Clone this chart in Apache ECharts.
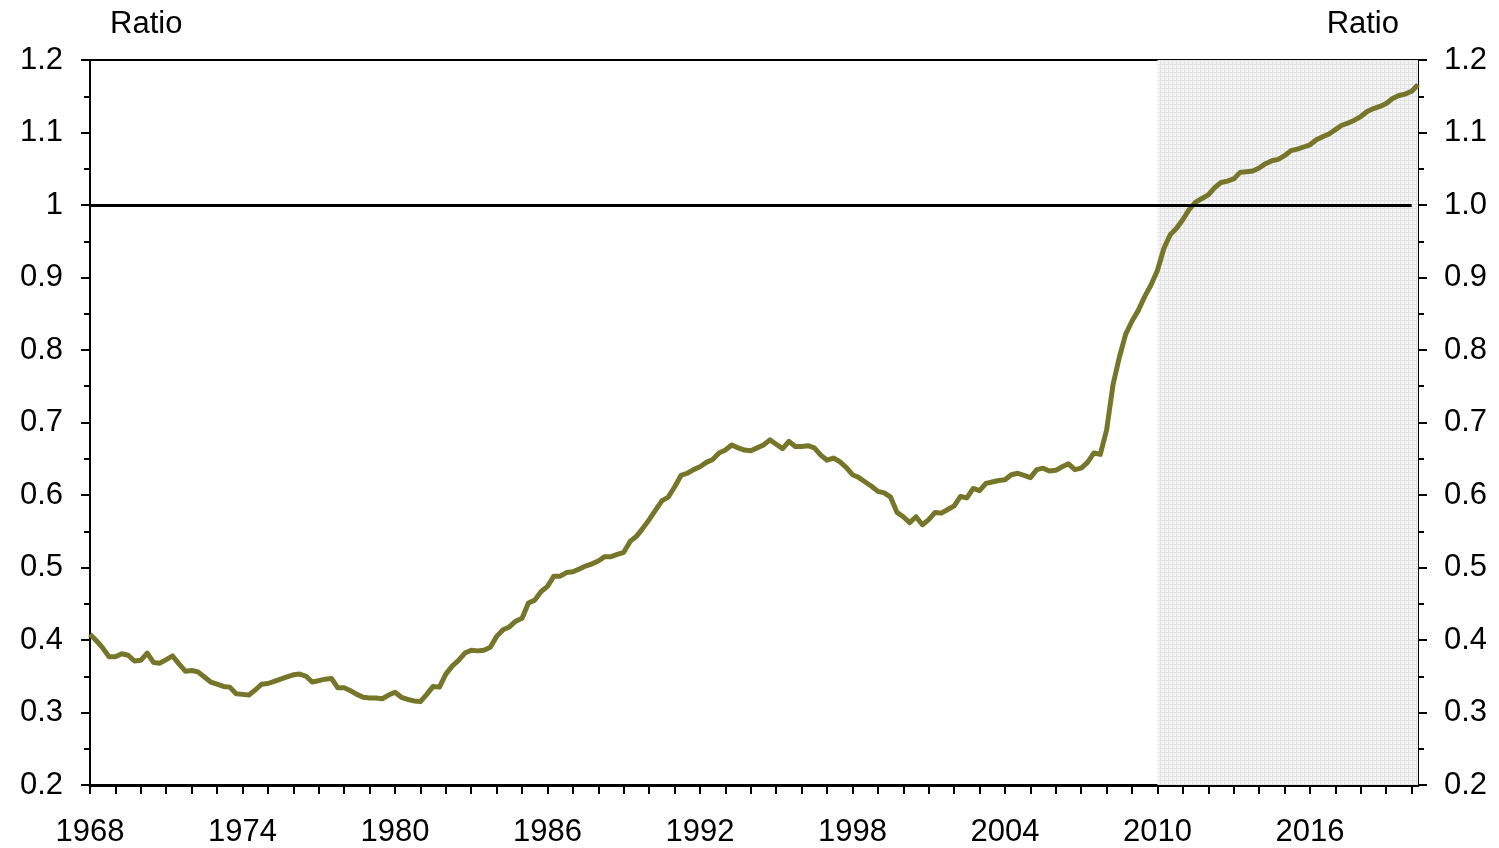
<!DOCTYPE html>
<html>
<head>
<meta charset="utf-8">
<title>Ratio</title>
<script src="https://cdn.jsdelivr.net/npm/echarts@6/dist/echarts.min.js"></script>
<style>
  html, body { margin: 0; padding: 0; background: #fff; }
  #chart { width: 1499px; height: 848px; }
</style>
</head>
<body>
<div id="chart"></div>
<script>
// quarterly, 1968Q1 .. 2020Q2
var firstYear = 1968;
var ratio = [
  0.408, 0.399, 0.389, 0.377, 0.377, 0.381, 0.379, 0.371, 0.372, 0.382,
  0.369, 0.368, 0.373, 0.378, 0.367, 0.357, 0.358, 0.356, 0.349, 0.342,
  0.339, 0.336, 0.335, 0.326, 0.325, 0.324, 0.331, 0.339, 0.340, 0.343,
  0.346, 0.349, 0.352, 0.353, 0.350, 0.342, 0.344, 0.346, 0.347, 0.334,
  0.334, 0.330, 0.325, 0.321, 0.320, 0.320, 0.319, 0.324, 0.328, 0.321,
  0.318, 0.316, 0.315, 0.325, 0.336, 0.335, 0.353, 0.364, 0.372, 0.382,
  0.386, 0.385, 0.386, 0.390, 0.405, 0.414, 0.418, 0.426, 0.430, 0.451,
  0.455, 0.467, 0.474, 0.488, 0.488, 0.493, 0.494, 0.498, 0.502, 0.505,
  0.509, 0.515, 0.515, 0.518, 0.521, 0.536, 0.543, 0.554, 0.566, 0.579,
  0.592, 0.597, 0.611, 0.627, 0.630, 0.635, 0.639, 0.645, 0.649, 0.658,
  0.662, 0.669, 0.665, 0.662, 0.661, 0.665, 0.669, 0.676, 0.670, 0.664,
  0.674, 0.667, 0.667, 0.668, 0.665, 0.655, 0.648, 0.651, 0.646, 0.638,
  0.628, 0.624, 0.618, 0.612, 0.605, 0.603, 0.597, 0.576, 0.570, 0.562,
  0.570, 0.559, 0.566, 0.576, 0.575, 0.580, 0.585, 0.598, 0.596, 0.609,
  0.606, 0.616, 0.618, 0.620, 0.621, 0.628, 0.630, 0.627, 0.624, 0.635,
  0.637, 0.633, 0.634, 0.639, 0.643, 0.635, 0.637, 0.645, 0.658, 0.656,
  0.690, 0.752, 0.790, 0.822, 0.840, 0.855, 0.874, 0.890, 0.910, 0.940,
  0.959, 0.968, 0.980, 0.994, 1.004, 1.009, 1.014, 1.024, 1.031, 1.033,
  1.036, 1.045, 1.046, 1.047, 1.051, 1.057, 1.061, 1.063, 1.068, 1.075,
  1.077, 1.080, 1.083, 1.090, 1.094, 1.098, 1.104, 1.110, 1.113, 1.117,
  1.122, 1.129, 1.133, 1.136, 1.140, 1.147, 1.151, 1.153, 1.157, 1.166
];
var yearLabels = ['1968', '1974', '1980', '1986', '1992', '1998', '2004', '2010', '2016'];
var shadeFrom = '2010Q1';
var shadeTo = '2020Q2';
var refLevel = 1;
var refEnd = '2020Q1';

var quarters = [];
for (var i = 0; i < ratio.length; i++) {
  quarters.push((firstYear + Math.floor(i / 4)) + 'Q' + (i % 4 + 1));
}

// fine grey grid texture for the shaded period
var pat = document.createElement('canvas');
pat.width = 4;
pat.height = 4;
var pctx = pat.getContext('2d');
pctx.fillStyle = '#f4f4f4';
pctx.fillRect(0, 0, 4, 4);
pctx.fillStyle = '#e3e3e3';
pctx.fillRect(0, 0, 4, 1);
pctx.fillRect(0, 0, 1, 4);

var font = "'Liberation Sans', Arial, sans-serif";
var fontSize = 31;
var black = '#000';

function yAxisDef(pos, fmt, margin) {
  return {
    type: 'value',
    position: pos,
    min: 0.2,
    max: 1.2,
    interval: 0.1,
    axisLine: { show: true, lineStyle: { color: black, width: 2 } },
    axisTick: { show: true, inside: false, length: 9, lineStyle: { color: black, width: 2 } },
    minorTick: { show: true, splitNumber: 2, length: 6, lineStyle: { color: black, width: 2 } },
    splitLine: { show: false },
    axisLabel: { color: black, fontFamily: font, fontSize: fontSize, margin: margin, formatter: fmt }
  };
}

var chart = echarts.init(document.getElementById('chart'));

chart.setOption({
  animation: false,
  backgroundColor: '#fff',
  grid: {
    left: 90, right: 81, top: 60, bottom: 63,
    show: true, borderColor: black, borderWidth: 2
  },
  graphic: [
    { type: 'text', left: 110, top: 9, style: { text: 'Ratio', font: fontSize + 'px ' + font, fill: black } },
    { type: 'text', right: 100, top: 9, style: { text: 'Ratio', font: fontSize + 'px ' + font, fill: black } }
  ],
  xAxis: {
    type: 'category',
    data: quarters,
    boundaryGap: false,
    axisLine: { lineStyle: { color: black, width: 3 } },
    axisTick: {
      show: true,
      length: 9,
      interval: function (idx) { return idx % 4 === 0; },
      lineStyle: { color: black, width: 2 }
    },
    axisLabel: {
      color: black,
      fontFamily: font,
      fontSize: fontSize,
      margin: 32,
      interval: function (idx, val) { return yearLabels.indexOf(val.slice(0, 4)) >= 0 && val.slice(4) === 'Q1'; },
      formatter: function (val) { return val.slice(0, 4); }
    },
    splitLine: { show: false }
  },
  yAxis: [
    yAxisDef('left', function (v) { return String(+v.toFixed(1)); }, 27),
    yAxisDef('right', function (v) { return v.toFixed(1); }, 26)
  ],
  series: [
    {
      name: 'shade',
      type: 'line',
      data: [],
      z: 1,
      silent: true,
      markArea: {
        silent: true,
        itemStyle: { color: { image: pat, repeat: 'repeat' } },
        data: [[{ xAxis: shadeFrom }, { xAxis: shadeTo }]]
      },
      markLine: {
        silent: true,
        symbol: 'none',
        label: { show: false },
        lineStyle: { color: black, width: 3, type: 'solid' },
        data: [[{ coord: [quarters[0], refLevel] }, { coord: [refEnd, refLevel] }]]
      }
    },
    {
      name: 'Ratio',
      type: 'line',
      data: ratio,
      z: 3,
      showSymbol: false,
      symbol: 'none',
      lineStyle: { color: '#76762a', width: 5, join: 'round' }
    }
  ]
});
</script>
</body>
</html>
